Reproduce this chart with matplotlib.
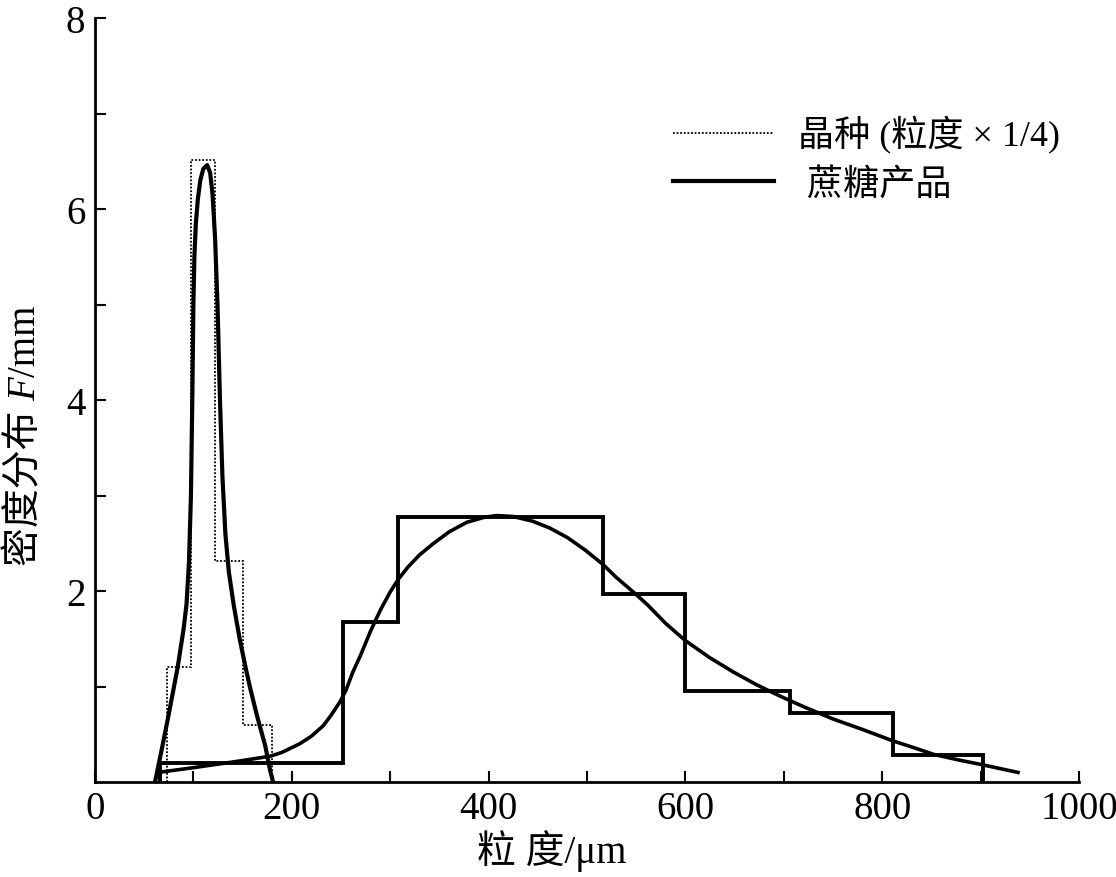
import matplotlib
matplotlib.use('Agg')
import matplotlib.pyplot as plt
from matplotlib.lines import Line2D

plt.rcParams['font.family'] = ['Liberation Serif', 'Noto Sans CJK SC']

# sucrose product histogram (bin edges in um, density F/mm)
product_edges = [66, 252, 308, 516, 600, 706, 811, 902]
product_heights = [0.2, 1.68, 2.77, 1.97, 0.95, 0.72, 0.28]

# seed crystal histogram (size x 1/4)
seed_edges = [73, 98, 122, 150, 180]
seed_heights = [1.2, 6.51, 2.31, 0.60]

# fitted curves
seed_x = [61, 68, 74, 84, 90, 93, 95.5, 97.5, 99, 100, 101, 102.5, 104.5, 107, 110, 114,
          117, 119.5, 122, 124.5, 127, 129.5, 132.5, 136, 141, 147, 153, 158, 165, 173, 178, 181]
seed_f = [0.0, 0.35, 0.66, 1.2, 1.6, 1.86, 2.3, 3.0, 4.1, 5.0, 5.5, 5.85, 6.1, 6.3, 6.42, 6.46,
          6.38, 6.15, 5.7, 5.0, 4.0, 3.2, 2.6, 2.2, 1.85, 1.5, 1.2, 0.97, 0.68, 0.38, 0.12, 0.0]

product_x = [64, 100, 147, 178, 190, 208, 220, 232, 240, 249, 255, 262, 270, 280, 290,
             300, 308, 318, 330, 343, 360, 378, 395, 408, 425, 445, 462, 480, 498, 516,
             530, 547, 561, 580, 600, 625, 649, 672, 696, 722, 750, 780, 811, 832, 852,
             878, 902, 920, 938]
product_f = [0.10, 0.15, 0.22, 0.27, 0.31, 0.40, 0.48, 0.59, 0.70, 0.84, 0.96, 1.15, 1.33, 1.58, 1.80,
             1.99, 2.12, 2.25, 2.38, 2.49, 2.62, 2.72, 2.77, 2.79, 2.78, 2.73, 2.66, 2.56, 2.43, 2.28,
             2.14, 1.99, 1.86, 1.66, 1.48, 1.30, 1.15, 1.02, 0.90, 0.78, 0.66, 0.55, 0.43, 0.36, 0.29,
             0.23, 0.18, 0.14, 0.10]

xticks = [0, 200, 400, 600, 800, 1000]
yticks = [2, 4, 6, 8]
legend_labels = ['晶种 (粒度 × 1/4)', ' 蔗糖产品']

W, H = 1116, 878
fig = plt.figure(figsize=(W / 100, H / 100), dpi=100)
ax = fig.add_axes([95 / W, (H - 783) / H, 984 / W, (783 - 19) / H])

ax.stairs(seed_heights, seed_edges, baseline=0, color='black', lw=1.3, ls=(0, (1, 1)))
ax.plot(seed_x, seed_f, color='black', lw=3)
ax.stairs(product_heights, product_edges, baseline=0, color='black', lw=2.8)
ax.plot(product_x, product_f, color='black', lw=2.6)

ax.set_xlim(0, 1000)
ax.set_ylim(0, 8)
ax.set_xticks(xticks)
ax.set_xticks([100, 300, 500, 700, 900], minor=True)
ax.set_yticks(yticks)
ax.set_yticks([1, 3, 5, 7], minor=True)
ax.tick_params(which='both', direction='in', length=8, width=1.5, labelsize=28)
ax.tick_params(axis='x', pad=6)
ax.tick_params(axis='y', pad=7)
for side in ['top', 'right']:
    ax.spines[side].set_visible(False)
for side in ['left', 'bottom']:
    ax.spines[side].set_linewidth(2)

ax.set_xlabel('粒 度/μm', fontsize=28)
ax.xaxis.set_label_coords(0.464, -0.062)

handles = [Line2D([], [], color='black', lw=1.3, ls=(0, (1, 1))),
           Line2D([], [], color='black', lw=3)]
ax.legend(handles, legend_labels, loc='upper left', bbox_to_anchor=(0.587, 0.872),
          frameon=False, fontsize=26, handlelength=2.8, handletextpad=0.68,
          labelspacing=0.4, borderpad=0, borderaxespad=0)

# y label in pieces so that F can be italic
fig.canvas.draw()
renderer = fig.canvas.get_renderer()
x0 = 35 / W
y = (H - 566) / H
pieces = [('密度分布 ', 'normal'), ('F', 'italic'), ('/mm', 'normal')]
for s, style in pieces:
    t = fig.text(x0, y, s, rotation=90, rotation_mode='anchor', ha='left',
                 va='baseline', fontsize=28, style=style)
    bb = t.get_window_extent(renderer)
    y += bb.height / H

fig.savefig('out.png', dpi=100)
